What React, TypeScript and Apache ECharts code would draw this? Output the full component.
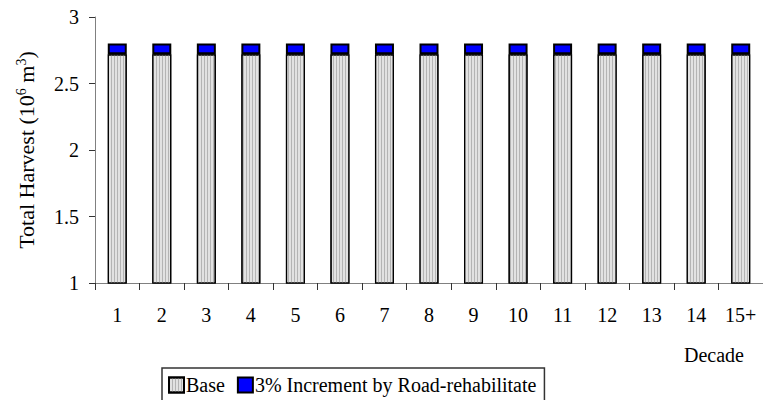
import React, { useEffect, useRef } from "react";
import * as echarts from "echarts";

const decades = ["1", "2", "3", "4", "5", "6", "7", "8", "9", "10", "11", "12", "13", "14", "15+"];
const baseHarvest = [2.72, 2.72, 2.72, 2.72, 2.72, 2.72, 2.72, 2.72, 2.72, 2.72, 2.72, 2.72, 2.72, 2.72, 2.72];
const roadIncrement = [0.08, 0.08, 0.08, 0.08, 0.08, 0.08, 0.08, 0.08, 0.08, 0.08, 0.08, 0.08, 0.08, 0.08, 0.08];
const yTicks = [1, 1.5, 2, 2.5, 3];

const FONT = "Liberation Serif";

export default function App() {
  const ref = useRef<HTMLDivElement>(null);

  useEffect(() => {
    if (!ref.current) return;
    const chart = echarts.init(ref.current, null, { renderer: "svg" });
    chart.setOption({
      animation: false,
      textStyle: { fontFamily: FONT, fontSize: 20 },
      grid: { left: 95, top: 17, right: -3, bottom: 117 },
      legend: {
        left: 162,
        top: 368,
        orient: "horizontal",
        icon: "rect",
        itemWidth: 15,
        itemHeight: 15,
        itemGap: 12,
        padding: [7, 8, 7, 6],
        borderColor: "#333",
        borderWidth: 1.5,
        textStyle: { fontFamily: FONT, fontSize: 20, color: "#000", padding: [0, 0, 0, -3] },
        data: ["Base", "3% Increment by Road-rehabilitate"],
      },
      graphic: [
        {
          type: "text",
          left: 684,
          top: 345,
          style: { text: "Decade", fontFamily: FONT, fontSize: 20, fill: "#000" },
        },
      ],
      xAxis: {
        type: "category",
        data: decades,
        axisLine: { lineStyle: { color: "#808080", width: 1 } },
        axisTick: { show: true, alignWithLabel: false, length: 7, lineStyle: { color: "#333" } },
        axisLabel: { color: "#000", fontSize: 20, fontFamily: FONT, margin: 22 },
      },
      yAxis: {
        type: "value",
        min: yTicks[0],
        max: yTicks[yTicks.length - 1],
        interval: 0.5,
        name: "{n|Total Harvest (10}{s|6}{n| m}{s|3}{n|)}",
        nameLocation: "middle",
        nameGap: 57,
        nameRotate: 90,
        nameTextStyle: {
          rich: {
            n: { fontSize: 22, fontFamily: FONT, color: "#000", lineHeight: 24 },
            s: { fontSize: 14, fontFamily: FONT, color: "#000", verticalAlign: "top", lineHeight: 24, padding: [0, 0, 10, 0] },
          },
        },
        axisLine: { show: true, lineStyle: { color: "#808080", width: 1 } },
        axisTick: { show: true, length: 6, lineStyle: { color: "#333" } },
        splitLine: { show: false },
        axisLabel: {
          color: "#000",
          fontSize: 20,
          fontFamily: FONT,
          margin: 16,
          formatter: (v: number) => String(v),
        },
      },
      series: [
        {
          name: "Base",
          type: "bar",
          stack: "total",
          barWidth: 19,
          data: baseHarvest,
          itemStyle: {
            color: "#e2e2e2",
            borderColor: "#000",
            borderWidth: 1.2,
            decal: {
              symbol: "rect",
              symbolSize: 1,
              color: "#b4b4b4",
              dashArrayX: [1, 2],
              dashArrayY: [4, 0],
              rotation: 0,
            },
          },
        },
        {
          name: "3% Increment by Road-rehabilitate",
          type: "bar",
          stack: "total",
          barWidth: 19,
          data: roadIncrement,
          itemStyle: { color: "#0000ff", borderColor: "#000", borderWidth: 2 },
        },
      ],
    });
    return () => chart.dispose();
  }, []);

  return (
    <div
      ref={ref}
      style={{ position: "fixed", left: 0, top: 0, width: 763, height: 400, background: "#fff" }}
    />
  );
}
